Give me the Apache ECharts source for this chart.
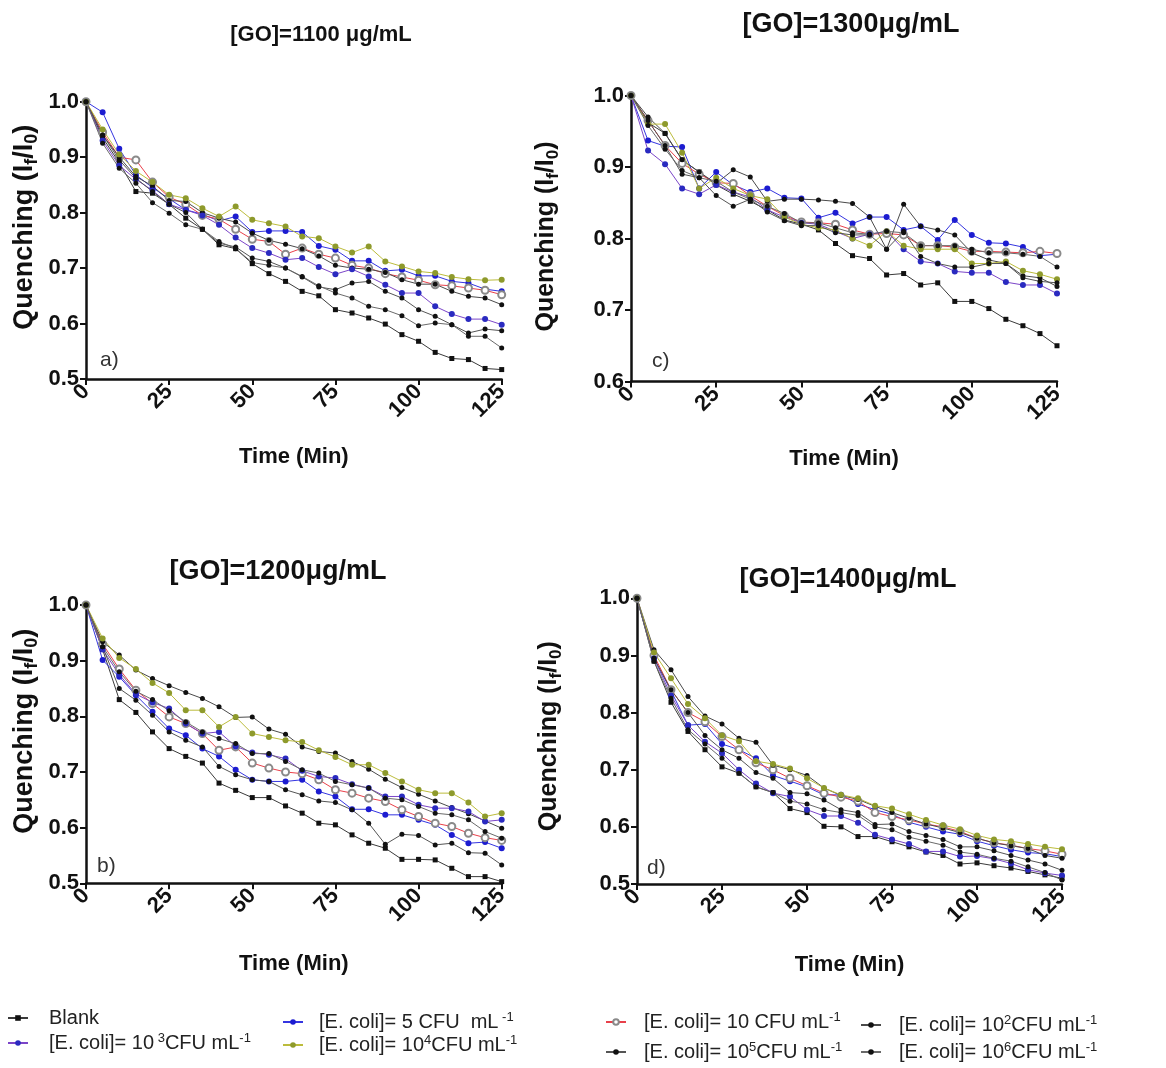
<!DOCTYPE html>
<html>
<head>
<meta charset="utf-8">
<script src="https://cdn.jsdelivr.net/npm/echarts@6/dist/echarts.min.js"></script>
<style>
html,body{margin:0;padding:0;background:#fff;}
#chart{width:1166px;height:1068px;}
</style>
</head>
<body>
<div id="chart"></div>
<script>
// ---------- DATA ----------
const time = [0, 5, 10, 15, 20, 25, 30, 35, 40, 45, 50, 55, 60, 65, 70, 75, 80, 85, 90, 95, 100, 105, 110, 115, 120, 125];
const xTicks = [0, 25, 50, 75, 100, 125];

// [GO]=1100 (panel a)
const aBlank = [1.000, 0.935, 0.890, 0.838, 0.835, 0.815, 0.790, 0.770, 0.742, 0.735, 0.708, 0.690, 0.676, 0.658, 0.650, 0.625, 0.619, 0.610, 0.599, 0.580, 0.568, 0.548, 0.537, 0.535, 0.519, 0.517];
const a5     = [1.000, 0.981, 0.915, 0.868, 0.845, 0.825, 0.805, 0.797, 0.785, 0.793, 0.765, 0.767, 0.767, 0.765, 0.740, 0.733, 0.713, 0.713, 0.695, 0.697, 0.686, 0.686, 0.676, 0.673, 0.662, 0.658];
const a10    = [1.000, 0.945, 0.900, 0.895, 0.855, 0.828, 0.815, 0.795, 0.788, 0.770, 0.752, 0.748, 0.725, 0.736, 0.725, 0.718, 0.705, 0.700, 0.690, 0.684, 0.678, 0.670, 0.668, 0.664, 0.660, 0.652];
const a1e2   = [1.000, 0.940, 0.900, 0.865, 0.848, 0.822, 0.820, 0.800, 0.790, 0.783, 0.763, 0.750, 0.743, 0.735, 0.722, 0.705, 0.700, 0.698, 0.692, 0.679, 0.671, 0.671, 0.658, 0.649, 0.646, 0.634];
const a1e3   = [1.000, 0.930, 0.885, 0.860, 0.840, 0.815, 0.805, 0.795, 0.778, 0.755, 0.736, 0.727, 0.715, 0.718, 0.702, 0.689, 0.698, 0.685, 0.670, 0.655, 0.655, 0.631, 0.617, 0.608, 0.608, 0.598];
const a1e4   = [1.000, 0.950, 0.905, 0.875, 0.855, 0.832, 0.826, 0.808, 0.793, 0.811, 0.787, 0.781, 0.775, 0.757, 0.754, 0.739, 0.728, 0.739, 0.712, 0.703, 0.694, 0.691, 0.684, 0.680, 0.678, 0.679];
const a1e5   = [1.000, 0.940, 0.895, 0.862, 0.838, 0.815, 0.800, 0.770, 0.745, 0.738, 0.718, 0.712, 0.700, 0.684, 0.666, 0.661, 0.673, 0.676, 0.658, 0.646, 0.625, 0.613, 0.598, 0.583, 0.590, 0.587];
const a1e6   = [1.000, 0.925, 0.880, 0.853, 0.818, 0.799, 0.778, 0.770, 0.748, 0.735, 0.710, 0.705, 0.700, 0.685, 0.668, 0.655, 0.646, 0.631, 0.625, 0.614, 0.596, 0.601, 0.598, 0.577, 0.577, 0.556];

// [GO]=1200 (panel b)
const bBlank = [1.000, 0.920, 0.830, 0.807, 0.772, 0.742, 0.728, 0.716, 0.680, 0.667, 0.654, 0.654, 0.639, 0.626, 0.608, 0.605, 0.587, 0.572, 0.563, 0.543, 0.543, 0.542, 0.527, 0.512, 0.512, 0.503];
const b5     = [1.000, 0.901, 0.871, 0.838, 0.808, 0.778, 0.766, 0.742, 0.728, 0.704, 0.686, 0.683, 0.683, 0.686, 0.665, 0.656, 0.633, 0.633, 0.623, 0.623, 0.614, 0.605, 0.587, 0.572, 0.574, 0.563];
const b10    = [1.000, 0.930, 0.885, 0.847, 0.823, 0.799, 0.787, 0.769, 0.739, 0.745, 0.716, 0.707, 0.700, 0.697, 0.686, 0.668, 0.662, 0.653, 0.647, 0.632, 0.620, 0.608, 0.602, 0.590, 0.582, 0.577];
const b1e2   = [1.000, 0.934, 0.910, 0.883, 0.868, 0.855, 0.843, 0.832, 0.817, 0.798, 0.799, 0.777, 0.768, 0.745, 0.737, 0.734, 0.719, 0.705, 0.687, 0.672, 0.660, 0.648, 0.636, 0.625, 0.612, 0.599];
const b1e3   = [1.000, 0.920, 0.875, 0.840, 0.825, 0.814, 0.787, 0.769, 0.772, 0.746, 0.735, 0.731, 0.724, 0.702, 0.692, 0.689, 0.678, 0.671, 0.656, 0.656, 0.641, 0.635, 0.635, 0.629, 0.611, 0.614];
const b1e4   = [1.000, 0.940, 0.905, 0.885, 0.860, 0.842, 0.811, 0.811, 0.781, 0.799, 0.769, 0.763, 0.757, 0.754, 0.739, 0.727, 0.713, 0.713, 0.698, 0.683, 0.668, 0.662, 0.662, 0.645, 0.620, 0.626];
const b1e5   = [1.000, 0.925, 0.850, 0.829, 0.802, 0.772, 0.757, 0.745, 0.710, 0.695, 0.686, 0.683, 0.668, 0.659, 0.648, 0.645, 0.632, 0.608, 0.570, 0.588, 0.586, 0.569, 0.572, 0.555, 0.554, 0.533];
const b1e6   = [1.000, 0.925, 0.880, 0.845, 0.830, 0.810, 0.790, 0.772, 0.760, 0.751, 0.733, 0.733, 0.719, 0.704, 0.698, 0.683, 0.677, 0.671, 0.653, 0.650, 0.638, 0.626, 0.623, 0.614, 0.593, 0.581];

// [GO]=1300 (panel c)
const cBlank = [1.000, 0.962, 0.947, 0.910, 0.893, 0.875, 0.862, 0.852, 0.840, 0.826, 0.820, 0.812, 0.793, 0.776, 0.772, 0.749, 0.751, 0.735, 0.738, 0.712, 0.712, 0.702, 0.687, 0.678, 0.667, 0.650];
const c5     = [1.000, 0.937, 0.929, 0.928, 0.870, 0.893, 0.875, 0.865, 0.870, 0.857, 0.856, 0.829, 0.836, 0.821, 0.830, 0.830, 0.812, 0.817, 0.798, 0.826, 0.805, 0.794, 0.793, 0.788, 0.776, 0.778];
const c10    = [1.000, 0.965, 0.930, 0.905, 0.890, 0.878, 0.877, 0.860, 0.845, 0.832, 0.823, 0.822, 0.820, 0.812, 0.806, 0.807, 0.805, 0.790, 0.790, 0.788, 0.782, 0.782, 0.781, 0.780, 0.782, 0.779];
const c1e2   = [1.000, 0.970, 0.947, 0.910, 0.893, 0.877, 0.896, 0.886, 0.852, 0.855, 0.855, 0.854, 0.852, 0.849, 0.830, 0.785, 0.848, 0.817, 0.812, 0.805, 0.780, 0.770, 0.765, 0.748, 0.745, 0.733];
const c1e3   = [1.000, 0.923, 0.904, 0.870, 0.862, 0.875, 0.865, 0.858, 0.840, 0.830, 0.822, 0.820, 0.810, 0.800, 0.806, 0.810, 0.785, 0.768, 0.765, 0.754, 0.752, 0.752, 0.739, 0.735, 0.735, 0.723];
const c1e4   = [1.000, 0.960, 0.960, 0.920, 0.870, 0.885, 0.870, 0.860, 0.855, 0.830, 0.820, 0.815, 0.812, 0.800, 0.790, 0.810, 0.790, 0.785, 0.785, 0.785, 0.765, 0.765, 0.768, 0.755, 0.750, 0.743];
const c1e5   = [1.000, 0.965, 0.930, 0.890, 0.885, 0.860, 0.845, 0.855, 0.837, 0.825, 0.818, 0.818, 0.808, 0.805, 0.805, 0.785, 0.810, 0.775, 0.765, 0.760, 0.760, 0.765, 0.765, 0.745, 0.740, 0.738];
const c1e6   = [1.000, 0.958, 0.925, 0.895, 0.885, 0.880, 0.865, 0.855, 0.845, 0.835, 0.822, 0.822, 0.815, 0.808, 0.806, 0.810, 0.808, 0.790, 0.790, 0.790, 0.785, 0.780, 0.780, 0.778, 0.775, 0.760];

// [GO]=1400 (panel d)
const dBlank = [1.000, 0.890, 0.818, 0.767, 0.735, 0.705, 0.694, 0.670, 0.660, 0.632, 0.625, 0.601, 0.600, 0.583, 0.583, 0.574, 0.565, 0.556, 0.550, 0.535, 0.537, 0.532, 0.528, 0.522, 0.516, 0.510];
const d5     = [1.000, 0.895, 0.838, 0.778, 0.780, 0.745, 0.735, 0.720, 0.690, 0.680, 0.670, 0.656, 0.656, 0.640, 0.630, 0.622, 0.608, 0.600, 0.592, 0.587, 0.575, 0.567, 0.560, 0.555, 0.553, 0.548];
const d10    = [1.000, 0.900, 0.840, 0.800, 0.784, 0.758, 0.735, 0.712, 0.700, 0.685, 0.672, 0.659, 0.652, 0.645, 0.625, 0.618, 0.612, 0.605, 0.600, 0.592, 0.580, 0.572, 0.568, 0.562, 0.558, 0.552];
const d1e2   = [1.000, 0.910, 0.875, 0.828, 0.794, 0.780, 0.755, 0.748, 0.708, 0.700, 0.690, 0.668, 0.655, 0.648, 0.636, 0.625, 0.615, 0.605, 0.598, 0.590, 0.580, 0.572, 0.567, 0.562, 0.550, 0.545];
const d1e3   = [1.000, 0.895, 0.830, 0.778, 0.749, 0.729, 0.700, 0.676, 0.659, 0.653, 0.630, 0.619, 0.619, 0.607, 0.586, 0.578, 0.570, 0.557, 0.557, 0.548, 0.549, 0.544, 0.536, 0.525, 0.519, 0.515];
const d1e4   = [1.000, 0.905, 0.860, 0.815, 0.790, 0.760, 0.750, 0.715, 0.710, 0.702, 0.685, 0.668, 0.656, 0.650, 0.637, 0.632, 0.622, 0.612, 0.603, 0.596, 0.585, 0.578, 0.575, 0.570, 0.565, 0.561];
const d1e5   = [1.000, 0.895, 0.840, 0.800, 0.760, 0.735, 0.720, 0.695, 0.685, 0.660, 0.658, 0.647, 0.630, 0.625, 0.604, 0.605, 0.592, 0.585, 0.578, 0.565, 0.565, 0.558, 0.550, 0.542, 0.535, 0.524];
const d1e6   = [1.000, 0.890, 0.825, 0.770, 0.745, 0.720, 0.694, 0.670, 0.660, 0.645, 0.640, 0.630, 0.625, 0.620, 0.600, 0.595, 0.582, 0.575, 0.568, 0.556, 0.552, 0.545, 0.540, 0.530, 0.520, 0.507];

const seriesNames = ['Blank', 'E5', 'E10', 'E1e2', 'E1e3', 'E1e4', 'E1e5', 'E1e6'];
const legendLabels = {
  'Blank': 'Blank',
  'E5':   '[E. coli]= 5 CFU  mL{sup| -1}',
  'E10':  '[E. coli]= 10 CFU mL{sup|-1}',
  'E1e2': '[E. coli]= 10{sup|2}CFU mL{sup|-1}',
  'E1e3': '[E. coli]= 10{sup| 3}CFU mL{sup|-1}',
  'E1e4': '[E. coli]= 10{sup|4}CFU mL{sup|-1}',
  'E1e5': '[E. coli]= 10{sup|5}CFU mL{sup|-1}',
  'E1e6': '[E. coli]= 10{sup|6}CFU mL{sup|-1}'
};
const panelTitles = ['[GO]=1100 \u03bcg/mL', '[GO]=1300\u03bcg/mL', '[GO]=1200\u03bcg/mL', '[GO]=1400\u03bcg/mL'];
const panelLetters = ['a)', 'c)', 'b)', 'd)'];
const yMins = [0.5, 0.6, 0.5, 0.5];
const panelData = [
  [aBlank, a5, a10, a1e2, a1e3, a1e4, a1e5, a1e6],
  [cBlank, c5, c10, c1e2, c1e3, c1e4, c1e5, c1e6],
  [bBlank, b5, b10, b1e2, b1e3, b1e4, b1e5, b1e6],
  [dBlank, d5, d10, d1e2, d1e3, d1e4, d1e5, d1e6]
];

// ---------- STYLE / LAYOUT ----------
const FONT = '"Liberation Sans", Arial, sans-serif';
const seriesStyle = {
  'Blank': {symbol: 'rect',        size: 5, line: '#3a3a3a', mark: '#111111'},
  'E5':    {symbol: 'circle',      size: 6, line: '#3535e0', mark: '#1c1cd0'},
  'E10':   {symbol: 'emptyCircle', size: 7, line: '#e8404a', mark: '#8a8a8a'},
  'E1e2':  {symbol: 'circle',      size: 5, line: '#4a4a4a', mark: '#111111'},
  'E1e3':  {symbol: 'circle',      size: 6, line: '#7b45c8', mark: '#2a2ac0'},
  'E1e4':  {symbol: 'circle',      size: 6, line: '#bcbc3c', mark: '#8e9a2c'},
  'E1e5':  {symbol: 'circle',      size: 5, line: '#555555', mark: '#111111'},
  'E1e6':  {symbol: 'circle',      size: 5, line: '#6a6a6a', mark: '#111111'}
};
const grids = [
  {left: 86,  top: 101.7, width: 415.7, height: 277.3},
  {left: 631, top: 95.5,  width: 426,   height: 286},
  {left: 86,  top: 605,   width: 415.7, height: 278.3},
  {left: 637, top: 598.3, width: 425,   height: 285.7}
];
const yNameFont = [27, 25, 27, 25];
const yNameSub = [18, 17, 18, 17];
const yNameGaps = [45, 69, 45, 72];
const yNameShift = [26, 4, 26, 10];
const xNameGaps = [67, 66, 70, 70];
const titlePos = [[321, 35], [851, 25], [278, 572], [848, 580]];
const titleFont = [22, 27, 27, 27];
const letterPos = [[100, 360], [652, 361], [97, 866], [647, 868]];

const axisLineStyle = {color: '#111', width: 2.5};

const xAxes = grids.map((g, i) => ({
  type: 'value', gridIndex: i, min: 0, max: 125, interval: 25,
  axisLine: {show: true, onZero: false, lineStyle: axisLineStyle},
  axisTick: {show: true, length: 6, lineStyle: {color: '#111', width: 2}},
  splitLine: {show: false},
  axisLabel: {show: true, rotate: 45, margin: 9, fontSize: 22, fontWeight: 'bold', color: '#111', fontFamily: FONT,
    formatter: v => xTicks.indexOf(v) >= 0 ? String(v) : ''},
  name: 'Time (Min)', nameLocation: 'middle', nameGap: xNameGaps[i],
  nameTextStyle: {fontSize: 22, fontWeight: 'bold', color: '#111', fontFamily: FONT}
}));

const yAxes = grids.map((g, i) => ({
  type: 'value', gridIndex: i, min: yMins[i], max: 1.0, interval: 0.1,
  axisLine: {show: true, onZero: false, lineStyle: axisLineStyle},
  axisTick: {show: true, length: 6, lineStyle: {color: '#111', width: 2}},
  splitLine: {show: false},
  axisLabel: {show: true, margin: 7, fontSize: 22, fontWeight: 'bold', color: '#111', fontFamily: FONT,
    formatter: v => v.toFixed(1)},
  name: 'Quenching (I{sub|f}/I{sub|0})', nameLocation: 'middle', nameGap: yNameGaps[i],
  nameTextStyle: {fontSize: yNameFont[i], fontWeight: 'bold', color: '#111', fontFamily: FONT, lineHeight: yNameFont[i] + 6,
    padding: [0, 0, 0, yNameShift[i]],
    rich: {sub: {fontSize: yNameSub[i], fontWeight: 'bold', color: '#111', fontFamily: FONT, verticalAlign: 'bottom', lineHeight: yNameSub[i]}}}
}));

const series = [];
panelData.forEach((list, p) => {
  list.forEach((vals, k) => {
    const name = seriesNames[k];
    const st = seriesStyle[name];
    series.push({
      type: 'line', name: name, xAxisIndex: p, yAxisIndex: p,
      data: time.map((t, j) => [t, vals[j]]),
      symbol: st.symbol, symbolSize: st.size, showSymbol: true,
      lineStyle: {color: st.line, width: 1},
      itemStyle: {color: st.mark, borderColor: st.mark, borderWidth: st.symbol === 'emptyCircle' ? 1 : 0},
      emphasis: {disabled: true},
      animation: false,
      z: 2
    });
  });
});

function makeLegend(names, left, top, gap, padW) {
  return {
    data: names, orient: 'vertical', left: left, top: top, itemGap: gap,
    itemWidth: 20, itemHeight: 7, padding: 0,
    formatter: n => '{g| }' + legendLabels[n],
    textStyle: {fontSize: 20, color: '#222', fontFamily: FONT, lineHeight: 22,
      rich: {
        g: {width: padW, fontSize: 20},
        sup: {fontSize: 13, color: '#222', fontFamily: FONT, verticalAlign: 'top', lineHeight: 12}
      }}
  };
}

const graphics = [];
panelTitles.forEach((t, i) => {
  graphics.push({type: 'text', x: titlePos[i][0], y: titlePos[i][1], silent: true,
    style: {text: t, fontSize: titleFont[i], fontWeight: 'bold', fontFamily: FONT, fill: '#111', align: 'center', verticalAlign: 'middle'}});
});
panelLetters.forEach((t, i) => {
  graphics.push({type: 'text', x: letterPos[i][0], y: letterPos[i][1], silent: true,
    style: {text: t, fontSize: 21, fontFamily: FONT, fill: '#333', align: 'left', verticalAlign: 'middle'}});
});

const chart = echarts.init(document.getElementById('chart'), null, {renderer: 'canvas'});
chart.setOption({
  backgroundColor: '#ffffff',
  animation: false,
  grid: grids.map(g => Object.assign({containLabel: false, outerBoundsMode: 'none'}, g)),
  xAxis: xAxes,
  yAxis: yAxes,
  legend: [
    makeLegend(['Blank', 'E1e3'], 7, 1007, 3, 16),
    makeLegend(['E5', 'E1e4'], 282, 1011, 1, 11),
    makeLegend(['E10', 'E1e5'], 605, 1011, 8, 13),
    makeLegend(['E1e2', 'E1e6'], 860, 1014, 5, 13)
  ],
  graphic: graphics,
  series: series
});
</script>
</body>
</html>
